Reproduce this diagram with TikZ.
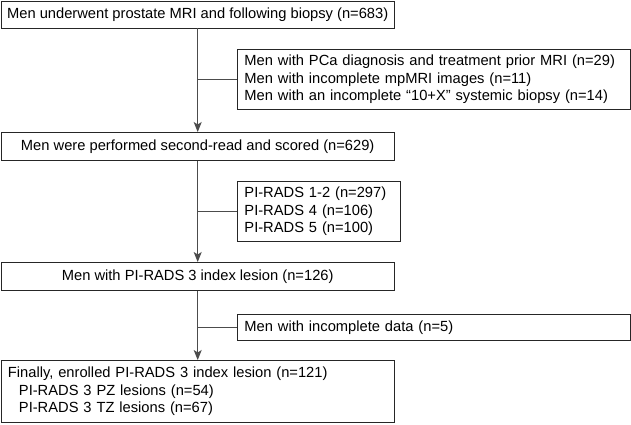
\documentclass[tikz,border=0pt]{standalone}
\usepackage{fontspec}
\setmainfont{Liberation Sans}
\usetikzlibrary{arrows.meta}
\begin{document}
\begin{tikzpicture}[x=1pt,y=-1pt,
  every node/.style={font=\fontsize{14.7}{17.4}\selectfont},
  mainbox/.style={draw=black!85, line width=0.9pt, anchor=north west, inner sep=0pt, align=center},
  exbox/.style={draw=black!85, line width=0.9pt, anchor=north west, inner xsep=7pt, inner ysep=0pt, align=left},
  conn/.style={draw=black!70, line width=0.9pt},
  arr/.style={conn, -{Stealth[length=10pt,width=8pt,inset=2.5pt]}}
]
\useasboundingbox (0,0) rectangle (631,424);
% main flow boxes
\node[mainbox, minimum width=393.5pt, minimum height=27pt] (b1) at (0.5,0.5)
  {Men underwent prostate MRI and following biopsy (n=683)};
\node[mainbox, minimum width=393.5pt, minimum height=28pt] (b2) at (0.5,132)
  {Men were performed second-read and scored (n=629)};
\node[mainbox, minimum width=393.5pt, minimum height=28pt] (b3) at (0.5,262)
  {Men with PI-RADS 3 index lesion (n=126)};
\node[exbox, text width=379pt, minimum height=62pt] (b4) at (0.5,360)
  {Finally, enrolled PI-RADS 3 index lesion (n=121)\\
   \hspace*{11pt}PI-RADS 3 PZ lesions (n=54)\\
   \hspace*{11pt}PI-RADS 3 TZ lesions (n=67)};
% exclusion boxes
\node[exbox, text width=379pt, minimum height=60pt] (e1) at (237,49)
  {Men with PCa diagnosis and treatment prior MRI (n=29)\\
   Men with incomplete mpMRI images (n=11)\\
   Men with an incomplete “10+X” systemic biopsy (n=14)};
\node[exbox, text width=149pt, minimum height=60pt] (e2) at (237,181)
  {PI-RADS 1-2 (n=297)\\
   PI-RADS 4 (n=106)\\
   PI-RADS 5 (n=100)};
\node[exbox, text width=379pt, minimum height=26pt] (e3) at (237,314)
  {Men with incomplete data (n=5)};
% connectors
\draw[arr] (b1.south) -- (b2.north);
\draw[arr] (b2.south) -- (b3.north);
\draw[arr] (b3.south) -- (b3.south |- b4.north);
\draw[conn] (b1.south |- e1.west) -- (e1.west);
\draw[conn] (b2.south |- e2.west) -- (e2.west);
\draw[conn] (b3.south |- e3.west) -- (e3.west);
\end{tikzpicture}
\end{document}
